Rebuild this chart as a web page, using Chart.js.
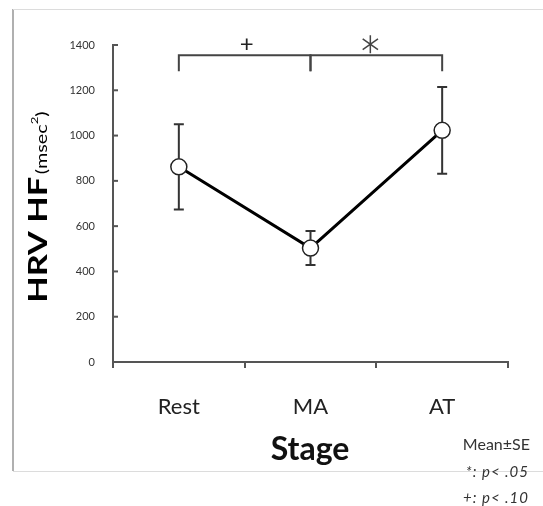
<!DOCTYPE html>
<html>
<head>
<meta charset="utf-8">
<script src="https://cdn.jsdelivr.net/npm/chart.js@4"></script>
<style>
  html, body { margin: 0; padding: 0; background: #fff; }
  #wrap { width: 543px; height: 506px; }
</style>
</head>
<body>
<div id="wrap"><canvas id="hrvChart" width="543" height="506"></canvas></div>
<script>
// data
var stages = ['Rest', 'MA', 'AT'];
var meanHF = [862, 503, 1023];
var seHF = [188, 75, 192];
var yTicks = [0, 200, 400, 600, 800, 1000, 1200, 1400];
// significance brackets: [from, to, mark]
var brackets = [[0, 1, '+'], [1, 2, '*']];
var bracketLevel = 1355;

var FONT = 'Lato, "Open Sans", sans-serif';

var extras = {
    id: 'extras',
    beforeDraw: function (chart) {
        var c = chart.ctx;
        c.save();
        c.fillStyle = '#fff';
        c.fillRect(0, 0, chart.width, chart.height);
        // outer frame
        c.strokeStyle = '#b0b0b0';
        c.lineWidth = 2;
        c.beginPath(); c.moveTo(13, 9); c.lineTo(13, 471); c.stroke();
        c.strokeStyle = '#dcdcdc';
        c.lineWidth = 1;
        c.beginPath(); c.moveTo(13, 9.5); c.lineTo(543, 9.5); c.stroke();
        c.beginPath(); c.moveTo(13, 471.5); c.lineTo(543, 471.5); c.stroke();
        c.restore();
    },
    afterDatasetsDraw: function (chart) {
        var c = chart.ctx;
        var x = chart.scales.x, y = chart.scales.y;
        c.save();
        // inner y tick marks
        c.strokeStyle = '#555';
        c.lineWidth = 2;
        yTicks.forEach(function (v) {
            var py = y.getPixelForValue(v);
            c.beginPath(); c.moveTo(x.left, py); c.lineTo(x.left + 5, py); c.stroke();
        });
        // error bars
        c.strokeStyle = '#333';
        c.lineWidth = 2;
        meanHF.forEach(function (m, i) {
            var px = x.getPixelForValue(i);
            var top = y.getPixelForValue(m + seHF[i]);
            var bot = y.getPixelForValue(m - seHF[i]);
            var r = 8;
            var pm = y.getPixelForValue(m);
            c.beginPath();
            c.moveTo(px, top); c.lineTo(px, pm - r);
            c.moveTo(px, pm + r); c.lineTo(px, bot);
            c.moveTo(px - 5, top); c.lineTo(px + 5, top);
            c.moveTo(px - 5, bot); c.lineTo(px + 5, bot);
            c.stroke();
        });
        // brackets
        var by = y.getPixelForValue(bracketLevel);
        c.strokeStyle = '#444';
        c.lineWidth = 2;
        c.fillStyle = '#222';
        c.textAlign = 'center';
        c.textBaseline = 'middle';
        brackets.forEach(function (b) {
            var x1 = x.getPixelForValue(b[0]), x2 = x.getPixelForValue(b[1]);
            c.beginPath();
            c.moveTo(x1, by + 16); c.lineTo(x1, by); c.lineTo(x2, by); c.lineTo(x2, by + 16);
            c.stroke();
            var mx = (x1 + x2) / 2;
            if (b[2] === '*') {
                mx -= 6;
                c.lineWidth = 1.5;
                c.beginPath();
                var cy = by - 11, s = 9;
                c.moveTo(mx, cy - s); c.lineTo(mx, cy + s);
                c.moveTo(mx - s * 0.85, cy - s * 0.6); c.lineTo(mx + s * 0.85, cy + s * 0.6);
                c.moveTo(mx - s * 0.85, cy + s * 0.6); c.lineTo(mx + s * 0.85, cy - s * 0.6);
                c.stroke();
                c.lineWidth = 2;
            } else {
                c.font = '24px ' + FONT;
                c.fillText(b[2], mx + 2, by - 11);
            }
        });
        c.restore();
    },
    afterDraw: function (chart) {
        var c = chart.ctx;
        c.save();
        // y title: HRV HF(msec²), stretched along its length like the source
        c.translate(37, 207);
        c.rotate(-Math.PI / 2);
        c.scale(1.32, 1);
        c.fillStyle = '#000';
        c.textBaseline = 'alphabetic';
        c.textAlign = 'left';
        var main = 'HRV HF';
        var sub = '(msec';
        c.font = 'bold 26px ' + FONT;
        var w1 = c.measureText(main).width;
        c.font = '15px ' + FONT;
        var w2 = c.measureText(sub).width;
        c.font = '10px ' + FONT;
        var w3 = c.measureText('2').width;
        c.font = '15px ' + FONT;
        var w4 = c.measureText(')').width;
        var total = w1 + w2 + w3 + w4 + 2;
        var sx = -total / 2;
        c.font = 'bold 26px ' + FONT;
        c.fillText(main, sx, 10);
        c.font = '15px ' + FONT;
        c.fillText(sub, sx + w1 + 2, 10);
        c.font = '10px ' + FONT;
        c.fillText('2', sx + w1 + 2 + w2, 1);
        c.font = '15px ' + FONT;
        c.fillText(')', sx + w1 + 2 + w2 + w3, 10);
        c.restore();

        // x title and note
        c.save();
        c.fillStyle = '#111';
        c.textAlign = 'center';
        c.textBaseline = 'middle';
        c.font = 'bold 32px ' + FONT;
        c.fillText('Stage', 310, 450);
        c.textAlign = 'right';
        c.fillStyle = '#333';
        c.font = '16px ' + FONT;
        c.fillText('Mean\u00b1SE', 530, 445);
        c.font = 'italic 15px ' + FONT;
        c.letterSpacing = '1px';
        c.fillText('*: p< .05', 529, 472);
        c.fillText('+: p< .10', 529, 498);
        c.restore();
    }
};

var ctx = document.getElementById('hrvChart').getContext('2d');
var hrvChart = new Chart(ctx, {
    type: 'line',
    data: {
        labels: stages,
        datasets: [{
            data: meanHF,
            borderColor: '#000',
            borderWidth: 3,
            pointRadius: 8,
            pointBackgroundColor: '#fff',
            pointBorderColor: '#222',
            pointBorderWidth: 1.5,
            tension: 0
        }]
    },
    options: {
        responsive: false,
        animation: false,
        events: [],
        layout: { padding: { top: 45, right: 35, left: 0, bottom: 0 } },
        plugins: { legend: { display: false }, tooltip: { enabled: false } },
        scales: {
            x: {
                offset: true,
                grid: { offset: true, drawOnChartArea: false, tickLength: 6, color: '#555', lineWidth: 2 },
                border: { color: '#555', width: 2 },
                ticks: { color: '#222', font: { family: FONT, size: 22 }, padding: 26 },
                afterFit: function (s) { s.height = 144; }
            },
            y: {
                min: 0,
                max: 1400,
                afterBuildTicks: function (s) { s.ticks = yTicks.map(function (v) { return { value: v }; }); },
                grid: { drawOnChartArea: false, drawTicks: false },
                border: { color: '#555', width: 2 },
                ticks: {
                    color: '#333',
                    font: { family: FONT, size: 11 },
                    padding: 18,
                    callback: function (v) { return String(v); }
                },
                afterFit: function (s) { s.width = 113; }
            }
        }
    },
    plugins: [extras]
});
</script>
</body>
</html>
